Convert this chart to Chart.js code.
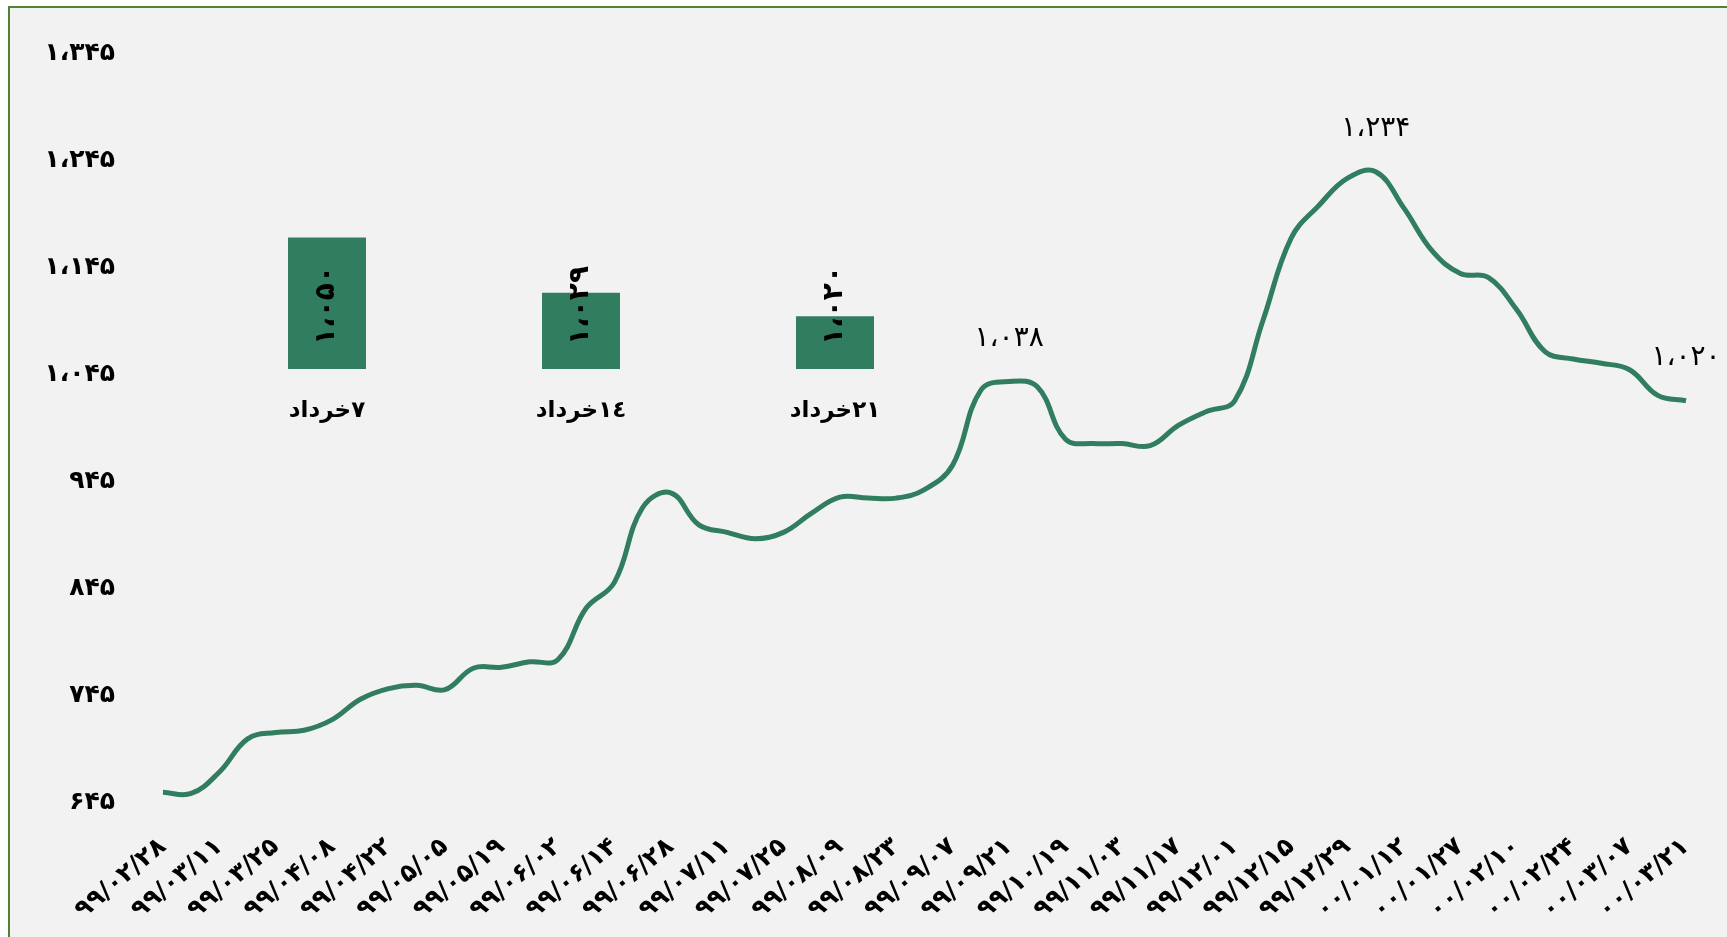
<!DOCTYPE html>
<html>
<head>
<meta charset="utf-8">
<script src="https://cdn.jsdelivr.net/npm/chart.js@4"></script>
<style>
  html, body { margin: 0; padding: 0; background: #ffffff; overflow: hidden; }
  #frame {
    position: absolute; left: 8px; top: 6px;
    width: 1719px; height: 931px;
    border-left: 2px solid #548235; border-top: 2px solid #548235;
    background: #f2f2f2;
  }
  #main { position: absolute; left: 0; top: 0; }
  #inset { position: absolute; left: 190px; top: 161px; }
</style>
</head>
<body>
<div id="frame">
  <canvas id="main" width="1717" height="929"></canvas>
  <canvas id="inset" width="762" height="260" dir="rtl"></canvas>
</div>
<script>
// tick dates shown under the axis (one every second point)
const tickDates = ['99/02/28', '99/03/11', '99/03/25', '99/04/08', '99/04/22', '99/05/05', '99/05/19',
  '99/06/02', '99/06/14', '99/06/28', '99/07/11', '99/07/25', '99/08/09', '99/08/23', '99/09/07',
  '99/09/21', '99/10/19', '99/11/03', '99/11/17', '99/12/01', '99/12/15', '99/12/29', '00/01/12',
  '00/01/27', '00/02/10', '00/02/24', '00/03/07', '00/03/21'];

// weekly values
const prices = [654, 653, 673, 704, 710, 712, 722, 741, 751, 754, 750, 770, 771, 776, 778,
  826, 850, 920, 934, 904, 897, 891, 897, 915, 930, 929, 929, 937, 960, 1030, 1038, 1033,
  984, 980, 980, 978, 997, 1010, 1020, 1095, 1172, 1203, 1228, 1234, 1200, 1160, 1139, 1135,
  1105, 1066, 1059, 1055, 1049, 1025, 1020];

const labelledPoints = [30, 43, 54];
const yTicks = [645, 745, 845, 945, 1045, 1145, 1245, 1345];

// inset bars
const barLabels = ['۷خرداد', '١٤خرداد', '۲۱خرداد'];
const barValues = [1050, 1029, 1020];

const GREEN = '#317d5f';
const FONT = "'DejaVu Sans', sans-serif";

function fa(v) {
  const s = typeof v === 'number' ? v.toLocaleString('en-US') : v;
  return s.replace(/\d/g, d => '۰۱۲۳۴۵۶۷۸۹'[d]).replace(/,/g, '،');
}

// build category list: a date on every other week
const categories = prices.map((p, i) => (i % 2 === 0 ? fa(tickDates[i / 2]) : ''));

const pointLabels = {
  id: 'pointLabels',
  afterDatasetsDraw(chart) {
    const ctx = chart.ctx;
    const meta = chart.getDatasetMeta(0);
    ctx.save();
    ctx.font = '28px ' + FONT;
    ctx.fillStyle = '#000';
    ctx.textAlign = 'center';
    ctx.textBaseline = 'middle';
    labelledPoints.forEach(i => {
      const pt = meta.data[i];
      ctx.fillText(fa(prices[i]), pt.x, pt.y - 43);
    });
    ctx.restore();
  }
};

new Chart(document.getElementById('main'), {
  type: 'line',
  data: {
    labels: categories,
    datasets: [{
      data: prices,
      borderColor: GREEN,
      borderWidth: 5,
      pointRadius: 0,
      tension: 0.4,
      fill: false
    }]
  },
  options: {
    responsive: false,
    animation: false,
    devicePixelRatio: 1,
    layout: { padding: { top: 45, right: 41, left: 0, bottom: 0 } },
    plugins: { legend: { display: false }, tooltip: { enabled: false } },
    scales: {
      x: {
        grid: { display: false, drawTicks: false },
        border: { display: false },
        ticks: {
          autoSkip: false, maxRotation: 40, minRotation: 40, padding: 30,
          color: '#000', font: { family: FONT, size: 25, weight: 'bold' }
        },
        afterFit(s) {
          s.height = 135;
          s.paddingLeft = 0;
          s.paddingRight = 0;
        }
      },
      y: {
        min: 645, max: 1345,
        grid: { display: false, drawTicks: false },
        border: { display: false },
        afterBuildTicks(s) { s.ticks = yTicks.map(v => ({ value: v })); },
        ticks: {
          padding: 48, color: '#000',
          font: { family: FONT, size: 25, weight: 'bold' },
          callback: v => fa(v)
        },
        afterFit(s) {
          s.width = 153;
          // tick padding should only push labels sideways
          s.paddingTop = 0;
          s.paddingBottom = 0;
        }
      }
    }
  },
  plugins: [pointLabels]
});

const barText = {
  id: 'barText',
  afterDatasetsDraw(chart) {
    const ctx = chart.ctx;
    const meta = chart.getDatasetMeta(0);
    const base = chart.chartArea.bottom;
    ctx.save();
    ctx.font = 'bold 28px ' + FONT;
    ctx.fillStyle = '#000';
    ctx.textAlign = 'left';
    ctx.textBaseline = 'middle';
    meta.data.forEach((bar, i) => {
      ctx.save();
      ctx.translate(bar.x, base - 24);
      ctx.rotate(-Math.PI / 2);
      ctx.direction = 'ltr';
      ctx.fillText(fa(barValues[i]), 0, 0);
      ctx.restore();
    });
    ctx.restore();
  }
};

new Chart(document.getElementById('inset'), {
  type: 'bar',
  data: {
    labels: barLabels,
    datasets: [{ data: barValues, backgroundColor: GREEN, categoryPercentage: 1, barPercentage: 0.307 }]
  },
  options: {
    responsive: false,
    animation: false,
    devicePixelRatio: 1,
    layout: { padding: 0 },
    plugins: { legend: { display: false }, tooltip: { enabled: false } },
    scales: {
      x: {
        grid: { display: false, drawTicks: false },
        border: { display: false },
        ticks: { padding: 28, color: '#000', font: { family: FONT, size: 23, weight: 'bold' } },
        afterFit(s) { s.height = 60; }
      },
      y: { display: false, min: 1000, max: 1076 }
    }
  },
  plugins: [barText]
});
</script>
</body>
</html>
